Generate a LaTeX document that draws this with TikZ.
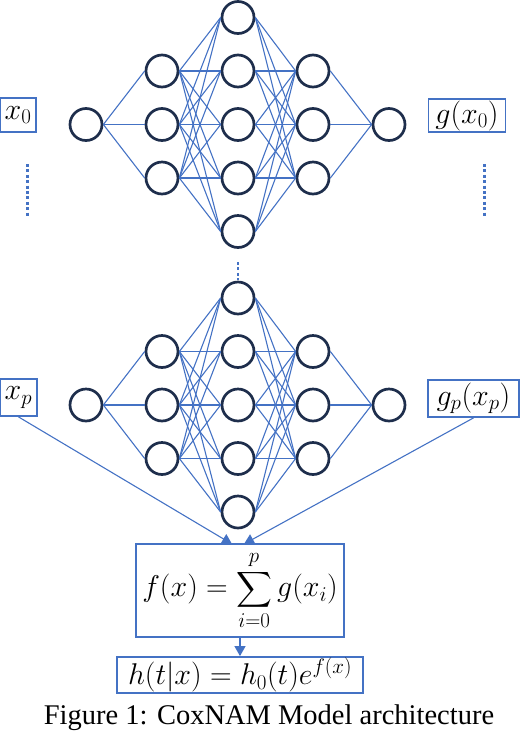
\RequirePackage{fix-cm}
\documentclass[tikz,border=0pt]{standalone}
\usepackage{exscale}
\usepackage{fontspec}
\setmainfont{Liberation Serif}
\usetikzlibrary{arrows.meta,calc}
\definecolor{lblue}{HTML}{4472C4}
\definecolor{navy}{HTML}{1E2E4C}
\begin{document}
\begin{tikzpicture}[x=1pt,y=-1pt,
  neuron/.style={circle,draw=navy,line width=2.7pt,minimum size=32pt,inner sep=0pt},
  conn/.style={draw=lblue,line width=1.1pt},
  lbox/.style={draw=lblue,line width=1.8pt,inner sep=0pt,font=\fontsize{30}{34}\selectfont},
  dots/.style={draw=lblue,line width=3pt,dash pattern=on 3pt off 2.4pt},
  arr/.style={draw=lblue,line width=1.1pt,-{Triangle[width=11pt,length=10pt]}}]
\useasboundingbox (0,0) rectangle (520,740);
\foreach \k/\dy in {1/0,2/280.5}{
  \node[neuron] (n\k-in) at (86,124.5+\dy) {};
  \node[neuron] (n\k-out) at (389,124.5+\dy) {};
  \foreach \i/\yy in {1/71,2/124.5,3/178}{
    \node[neuron] (n\k-a\i) at (162,\yy+\dy) {};
    \node[neuron] (n\k-c\i) at (313,\yy+\dy) {};
  }
  \foreach \i/\yy in {1/17.5,2/71,3/124.5,4/178,5/231.5}{
    \node[neuron] (n\k-b\i) at (238,\yy+\dy) {};
  }
  \foreach \i in {1,2,3}{
    \draw[conn] (n\k-in.east) -- (n\k-a\i.west);
    \draw[conn] (n\k-c\i.east) -- (n\k-out.west);
    \foreach \j in {1,...,5}{
      \draw[conn] (n\k-a\i.east) -- (n\k-b\j.west);
      \draw[conn] (n\k-b\j.east) -- (n\k-c\i.west);
    }
  }
}
% labels
\node[lbox,minimum width=36pt,minimum height=34pt] (x0) at (18,115) {$x_0$};
\node[lbox,minimum width=77pt,minimum height=33pt] (g0) at (467,115.5) {$g(x_0)$};
\node[lbox,minimum width=37pt,minimum height=37pt] (xp) at (18.5,397.5) {$x_p$};
\node[lbox,minimum width=91pt,minimum height=37pt] (gp) at (473.5,398.5) {$g_p(x_p)$};
% dotted
\coordinate (dl1) at (27,164); \coordinate (dl2) at (27,216);
\coordinate (dr1) at (484,164); \coordinate (dr2) at (484,216);
\coordinate (dm1) at (238,262); \coordinate (dm2) at (238,280);
\draw[dots] (dl1) -- (dl2);
\draw[dots] (dr1) -- (dr2);
\draw[dots,line width=2.5pt] (dm1) -- (dm2);
% formula boxes
\node[lbox,minimum width=208pt,minimum height=93pt] (f) at (240,590.5)
  {$\displaystyle f(x)=\sum_{i=0}^{p} g(x_i)$};
\node[lbox,minimum width=246pt,minimum height=36pt] (h) at (240,675)
  {$h(t|x)=h_0(t)e^{f(x)}$};
\coordinate (fa) at (232,544);
\coordinate (fb) at (244,544);
\draw[arr] (xp.south) -- (fa);
\draw[arr] (gp.south) -- (fb);
\draw[arr] (f.south) -- (h.north);
\node[font=\fontsize{28.5}{32}\selectfont] (cap) at (269,718) {Figure 1: CoxNAM Model architecture};
\end{tikzpicture}
\end{document}
